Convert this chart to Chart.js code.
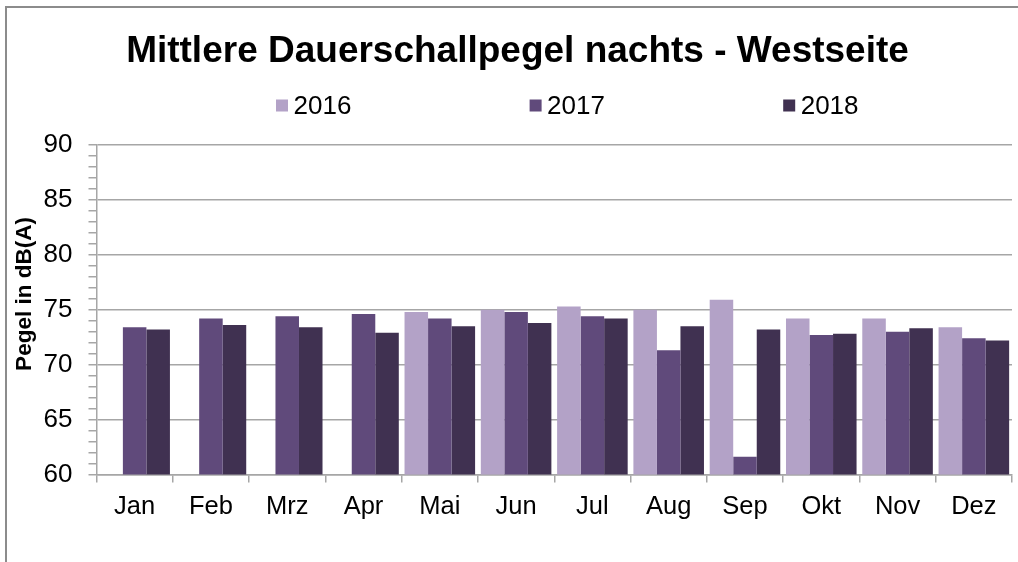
<!DOCTYPE html>
<html>
<head>
<meta charset="utf-8">
<script src="https://cdn.jsdelivr.net/npm/chart.js@4.4.1/dist/chart.umd.min.js"></script>
<style>
  html, body { margin: 0; padding: 0; background: #fff; overflow: hidden; }
  #frame { position: absolute; left: 5px; top: 6px; width: 1200px; height: 700px;
           border-left: 2px solid #8c8c8c; border-top: 2px solid #8c8c8c; }
  #wrap { position: absolute; left: 0; top: 0; width: 1018px; height: 562px; }
</style>
</head>
<body>
<div id="frame"></div>
<div id="wrap"><canvas id="chart"></canvas></div>
<script>
// values
const months = ["Jan", "Feb", "Mrz", "Apr", "Mai", "Jun", "Jul", "Aug", "Sep", "Okt", "Nov", "Dez"];
const years = ["2016", "2017", "2018"];
const values2016 = [null, null, null, null, 74.8, 75.0, 75.3, 75.0, 75.9, 74.2, 74.2, 73.4];
const values2017 = [73.4, 74.2, 74.4, 74.6, 74.2, 74.8, 74.4, 71.3, 61.6, 72.7, 73.0, 72.4];
const values2018 = [73.2, 73.6, 73.4, 72.9, 73.5, 73.8, 74.2, 73.5, 73.2, 72.8, 73.3, 72.2];
const yMin = 60;
const yMax = 90;

const colors = ["#b3a2c7", "#604a7b", "#403151"];
const gridGray = "#a6a6a6";
const font = "'Liberation Sans', Arial, sans-serif";

Chart.defaults.font.family = font;
Chart.defaults.color = "#000";

// title, wide legend and y axis title, placed like the original
const header = {
  id: "header",
  afterDraw(chart) {
    const ctx = chart.ctx;
    ctx.save();
    ctx.fillStyle = "#000";
    ctx.textBaseline = "alphabetic";

    ctx.font = "bold 37px " + font;
    ctx.textAlign = "center";
    ctx.fillText("Mittlere Dauerschallpegel nachts - Westseite", 517.5, 62);

    ctx.font = "26px " + font;
    ctx.textAlign = "left";
    chart.data.datasets.forEach((ds, i) => {
      const x = 276 + i * 253.6;
      ctx.fillStyle = ds.backgroundColor;
      ctx.fillRect(x, 99.5, 12, 12);
      ctx.fillStyle = "#000";
      ctx.fillText(ds.label, x + 17.5, 114.3);
    });

    ctx.font = "bold 22.5px " + font;
    ctx.textAlign = "center";
    ctx.translate(31, 294);
    ctx.rotate(-Math.PI / 2);
    ctx.fillText("Pegel in dB(A)", 0, 0);
    ctx.restore();
  }
};

new Chart(document.getElementById("chart"), {
  type: "bar",
  data: {
    labels: months,
    datasets: [
      { label: years[0], data: values2016, backgroundColor: colors[0] },
      { label: years[1], data: values2017, backgroundColor: colors[1] },
      { label: years[2], data: values2018, backgroundColor: colors[2] },
    ],
  },
  options: {
    responsive: true,
    maintainAspectRatio: false,
    animation: false,
    layout: { padding: { top: 145, right: 6, bottom: 31, left: 0 } },
    datasets: { bar: { categoryPercentage: 0.925, barPercentage: 1.0 } },
    plugins: {
      legend: { display: false },
      title: { display: false },
      tooltip: { enabled: false },
    },
    scales: {
      x: {
        grid: { offset: true, drawOnChartArea: false, color: gridGray, tickLength: 8, lineWidth: 1.5 },
        border: { color: gridGray, width: 1.5 },
        ticks: { font: { size: 25.5 }, padding: 9, maxRotation: 0, autoSkip: false },
      },
      y: {
        min: yMin,
        max: yMax,
        afterFit(scale) { scale.width = 96.5; },
        ticks: {
          stepSize: 1,
          autoSkip: false,
          padding: 16,
          font: { size: 26 },
          callback: (v) => (v % 5 === 0 ? v : ""),
        },
        grid: {
          color: (c) => (c.tick && c.tick.value % 5 === 0 ? gridGray : "rgba(0,0,0,0)"),
          tickColor: gridGray,
          tickLength: 8,
          lineWidth: 1.5,
        },
        border: { color: gridGray, width: 1.5 },
      },
    },
  },
  plugins: [header],
});
</script>
</body>
</html>
